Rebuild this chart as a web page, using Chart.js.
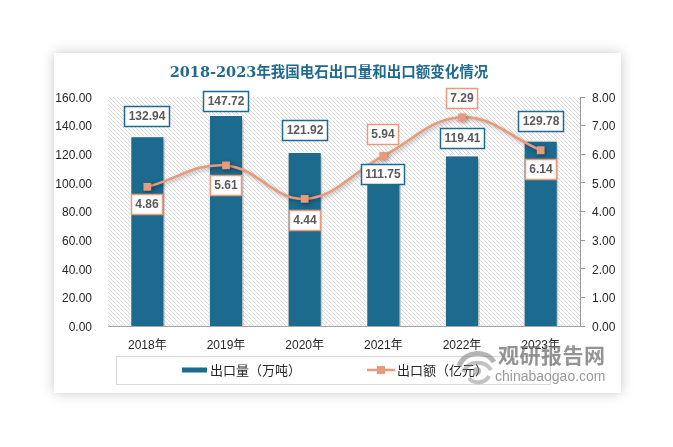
<!DOCTYPE html>
<html><head><meta charset="utf-8">
<script src="https://cdn.jsdelivr.net/npm/chart.js@4.4.0/dist/chart.umd.min.js"></script>
<style>
html,body{margin:0;padding:0;background:#fff;width:673px;height:447px;overflow:hidden;}
#card{position:absolute;left:54px;top:53px;width:567px;height:340px;background:#fff;box-shadow:0 0 12px rgba(0,0,0,0.22);}
#wrap{position:absolute;left:0;top:0;width:673px;height:447px;}
#wm1{position:absolute;left:498px;top:339px;font:bold 21px "Noto Sans CJK SC",sans-serif;letter-spacing:0.5px;color:rgba(105,105,105,0.72);white-space:nowrap;}
#wm2{position:absolute;left:495px;top:368px;font:14px "Liberation Sans",Arial,sans-serif;color:rgba(115,115,115,0.72);white-space:nowrap;}
#logo{position:absolute;left:455px;top:344px;}
</style></head>
<body>
<div id="card"></div>
<div id="wrap"><canvas id="c" width="673" height="447"></canvas></div>
<svg id="logo" width="42" height="42" viewBox="0 0 42 42">
  <path d="M4 22 C10 6, 32 6, 39 18" stroke="rgba(120,120,120,0.55)" stroke-width="5" fill="none"/>
  <path d="M8 28 C14 16, 30 16, 36 26" stroke="rgba(120,120,120,0.45)" stroke-width="4" fill="none"/>
  <path d="M14 34 C18 40, 30 40, 34 32" stroke="rgba(120,120,120,0.45)" stroke-width="4" fill="none"/>
  <circle cx="22" cy="27" r="4" fill="rgba(120,120,120,0.5)"/>
</svg>
<div id="wm1">观研报告网</div>
<div id="wm2">chinabaogao.com</div>
<script>
// ---- data ----
const categories = ['2018年','2019年','2020年','2021年','2022年','2023年'];
const exportVolume = [132.94, 147.72, 121.92, 111.75, 119.41, 129.78];
const exportValue = [4.86, 5.61, 4.44, 5.94, 7.29, 6.14];
const leftTickValues = [0, 20, 40, 60, 80, 100, 120, 140, 160];
const rightTickValues = [0, 1, 2, 3, 4, 5, 6, 7, 8];
const seriesNames = ['出口量（万吨）', '出口额（亿元）'];
const titleText = '2018-2023年我国电石出口量和出口额变化情况';

// ---- style ----
const BAR_COLOR = '#1c6a8e';
const LINE_COLOR = '#e99a7a';
const TITLE_COLOR = '#1f6a8d';
const LABEL_TEXT = '#595959';
const barLabelDy = [-19, -12.6, -21, 8.5, -16.4, -18.6];
const lineLabelDy = [18, 20, 21.5, -21, -19, 19.5];

function makePattern(ctx){
  const p = document.createElement('canvas');
  p.width = 4; p.height = 4;
  const pc = p.getContext('2d');
  pc.fillStyle = '#ffffff'; pc.fillRect(0,0,4,4);
  pc.fillStyle = '#d9d9d9';
  for (let i=0;i<4;i++) pc.fillRect(i,i,1,1);
  return ctx.createPattern(p,'repeat');
}

const bgPlugin = {
  id:'hatchBg',
  beforeDraw(chart){
    const {ctx, chartArea:a} = chart;
    ctx.save();
    ctx.fillStyle = makePattern(ctx);
    ctx.fillRect(a.left, a.top, a.right-a.left, a.bottom-a.top);
    ctx.restore();
  }
};

const shadowPlugin = {
  id:'dsShadow',
  beforeDatasetDraw(chart){
    const ctx = chart.ctx; ctx.save();
    ctx.shadowColor='rgba(0,0,0,0.35)'; ctx.shadowBlur=4; ctx.shadowOffsetX=1.5; ctx.shadowOffsetY=1.5;
  },
  afterDatasetDraw(chart){ chart.ctx.restore(); }
};

const labelPlugin = {
  id:'valueLabels',
  afterDatasetsDraw(chart){
    const ctx = chart.ctx;
    ctx.save();
    ctx.font = 'bold 12px "Liberation Sans", Arial, sans-serif';
    ctx.textAlign='center'; ctx.textBaseline='middle';
    const draw = (idx, values, dys, border) => {
      const meta = chart.getDatasetMeta(idx);
      meta.data.forEach((el,i)=>{
        const txt = values[i].toFixed(2);
        const w = Math.round(ctx.measureText(txt).width + 9), h = 21;
        const x0 = Math.round(el.x - w/2), y0 = Math.round(el.y + dys[i] - h/2);
        ctx.fillStyle='#fff'; ctx.fillRect(x0,y0,w,h);
        ctx.strokeStyle=border; ctx.lineWidth=1.5; ctx.strokeRect(x0+0.5,y0+0.5,w-1,h-1);
        ctx.fillStyle=LABEL_TEXT; ctx.fillText(txt, x0+w/2, y0+h/2+0.5);
      });
    };
    draw(0, exportVolume, barLabelDy, BAR_COLOR);
    draw(1, exportValue, lineLabelDy, LINE_COLOR);
    ctx.restore();
  }
};

const decoPlugin = {
  id:'deco',
  afterDraw(chart){
    const ctx = chart.ctx, a = chart.chartArea;
    ctx.save();
    // title
    ctx.font = 'bold 14.5px "DejaVu Serif", "Noto Sans CJK SC", serif';
    ctx.fillStyle = TITLE_COLOR; ctx.textAlign='center'; ctx.textBaseline='middle';
    ctx.fillText(titleText, 329, 73);
    // legend box
    ctx.strokeStyle='#d9d9d9'; ctx.lineWidth=1;
    ctx.strokeRect(a.left+8.5, 356.5, 434, 28);
    const ly = 370;
    ctx.fillStyle = BAR_COLOR; ctx.fillRect(182, ly-2.5, 25, 5);
    ctx.font = '13px "Noto Sans CJK SC", sans-serif';
    ctx.fillStyle = '#262626'; ctx.textAlign='left';
    ctx.fillText(seriesNames[0], 210, ly);
    ctx.strokeStyle = LINE_COLOR; ctx.lineWidth = 2.5;
    ctx.beginPath(); ctx.moveTo(367, ly); ctx.lineTo(395, ly); ctx.stroke();
    ctx.fillStyle = LINE_COLOR; ctx.fillRect(377, ly-4, 8, 8);
    ctx.fillStyle = '#262626';
    ctx.fillText(seriesNames[1], 397, ly);
    ctx.restore();
  }
};

const tickFont = {family:'"Liberation Sans", "Noto Sans CJK SC", Arial, sans-serif', size:12};

new Chart(document.getElementById('c'), {
  type:'bar',
  data:{
    labels: categories,
    datasets:[
      {type:'bar', label:seriesNames[0], data:exportVolume, yAxisID:'y',
       backgroundColor:BAR_COLOR, borderColor:'#ffffff', borderWidth:1.5,
       barPercentage:0.445, categoryPercentage:1.0, order:1},
      {type:'line', label:seriesNames[1], data:exportValue, yAxisID:'y1',
       borderColor:LINE_COLOR, borderWidth:2.5, tension:0.4,
       pointStyle:'rect', pointRadius:5.5, pointBackgroundColor:LINE_COLOR,
       pointBorderColor:LINE_COLOR, pointBorderWidth:0, order:0}
    ]
  },
  options:{
    responsive:false, animation:false, devicePixelRatio:1, events:[],
    layout:{padding:{left:0,right:0,top:97,bottom:0}},
    plugins:{legend:{display:false}, title:{display:false}, tooltip:{enabled:false}},
    scales:{
      x:{
        grid:{display:false, drawTicks:false},
        border:{display:true, color:'#a6a6a6', width:1},
        ticks:{color:'#262626', font:tickFont, padding:12, maxRotation:0},
        afterFit(s){ s.height = 121; }
      },
      y:{
        position:'left', min:0, max:160,
        afterBuildTicks(s){ s.ticks = leftTickValues.map(v=>({value:v})); },
        grid:{display:false, drawTicks:false},
        border:{display:false},
        ticks:{color:'#262626', font:tickFont, padding:16, labelOffset:1.5, callback:v=>Number(v).toFixed(2)},
        afterFit(s){ s.width = 108; }
      },
      y1:{
        position:'right', min:0, max:8,
        afterBuildTicks(s){ s.ticks = rightTickValues.map(v=>({value:v})); },
        grid:{display:true, drawOnChartArea:false, drawTicks:true, tickLength:5, color:'#999999'},
        border:{display:true, color:'#999999', width:1},
        ticks:{color:'#262626', font:tickFont, padding:7, labelOffset:1.5, callback:v=>Number(v).toFixed(2)},
        afterFit(s){ s.width = 93; }
      }
    }
  },
  plugins:[bgPlugin, shadowPlugin, labelPlugin, decoPlugin]
});
</script>
</body></html>
